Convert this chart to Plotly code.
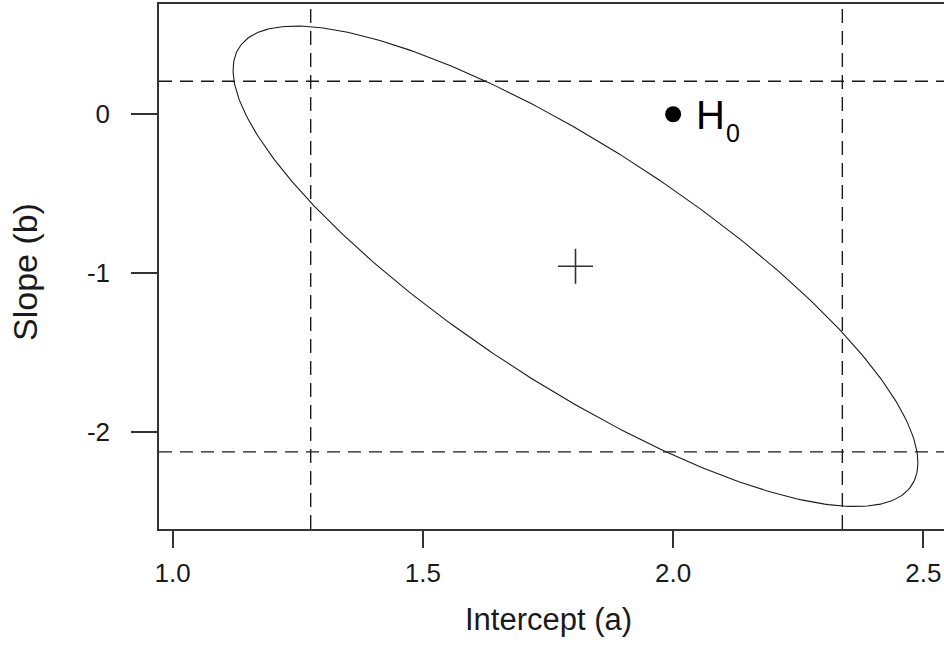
import numpy as np
import plotly.graph_objects as go

# ---- data ----
x_tickvals = [1.0, 1.5, 2.0, 2.5]
x_ticktext = ["1.0", "1.5", "2.0", "2.5"]
y_tickvals = [-2, -1, 0]
y_ticktext = ["-2", "-1", "0"]

est_a = 1.805          # intercept estimate (cross)
est_b = -0.958         # slope estimate (cross)
var_a = 0.684 ** 2     # joint-region half-extent in a, squared
var_b = 1.5135 ** 2    # joint-region half-extent in b, squared
cov_ab = -0.846        # covariance term of the joint region

ci_a = [1.276, 2.338]  # marginal interval for a (vertical dashed lines)
ci_b = [-2.127, 0.208] # marginal interval for b (horizontal dashed lines)

h0_a = [2.0]
h0_b = [0.0]

x_range = [0.973, 2.5411]
y_range = [-2.613, 0.6946]

# ---- ellipse from center + covariance ----
M = np.array([[var_a, cov_ab], [cov_ab, var_b]])
L = np.linalg.cholesky(M)
t = np.linspace(0, 2 * np.pi, 400)
pts = L @ np.vstack([np.cos(t), np.sin(t)])
ell_a = est_a + pts[0]
ell_b = est_b + pts[1]

FONT = "Liberation Sans, Arial, Helvetica, sans-serif"
INK = "#1a1a1a"
AX = "#333333"

fig = go.Figure()

fig.add_trace(go.Scatter(x=ell_a, y=ell_b, mode="lines",
                         line=dict(color=INK, width=1.1), hoverinfo="skip"))

for a in ci_a:
    fig.add_trace(go.Scatter(x=[a, a], y=y_range, mode="lines",
                             line=dict(color=INK, width=1.4, dash="14px,8px"),
                             hoverinfo="skip"))
for b in ci_b:
    fig.add_trace(go.Scatter(x=x_range, y=[b, b], mode="lines",
                             line=dict(color=INK, width=1.4, dash="13px,8px"),
                             hoverinfo="skip"))

fig.add_trace(go.Scatter(x=[est_a], y=[est_b], mode="markers",
                         marker=dict(symbol="cross-thin", size=25,
                                     line=dict(color=AX, width=1.6)),
                         hoverinfo="skip"))

fig.add_trace(go.Scatter(x=h0_a, y=h0_b, mode="markers",
                         marker=dict(symbol="circle", size=16, color="black"),
                         hoverinfo="skip"))

# H0 label
fig.add_annotation(x=h0_a[0], y=h0_b[0], xref="x", yref="y", text="H",
                   showarrow=False, xanchor="left", yanchor="middle",
                   xshift=21, yshift=-1,
                   font=dict(family=FONT, size=40, color="black"))
fig.add_annotation(x=h0_a[0], y=h0_b[0], xref="x", yref="y", text="0",
                   showarrow=False, xanchor="left", yanchor="middle",
                   xshift=51, yshift=-19,
                   font=dict(family=FONT, size=25, color="black"))

# axis titles
fig.add_annotation(x=0.4968, y=-0.1733, xref="paper", yref="paper",
                   text="Intercept (a)", showarrow=False,
                   xanchor="center", yanchor="middle",
                   font=dict(family=FONT, size=31, color=INK))
fig.add_annotation(x=-0.1707, y=0.4895, xref="paper", yref="paper",
                   text="Slope (b)", showarrow=False, textangle=-90,
                   xanchor="center", yanchor="middle",
                   font=dict(family=FONT, size=34, color=INK))

fig.update_layout(
    width=944, height=646,
    margin=dict(l=159, r=0, t=4, b=117),
    paper_bgcolor="white", plot_bgcolor="white",
    showlegend=False,
    xaxis=dict(range=x_range, showgrid=False, zeroline=False,
               showline=True, mirror=True, linecolor=AX, linewidth=1.6,
               ticks="outside", ticklen=17, tickwidth=1.6, tickcolor=AX,
               tickvals=x_tickvals, ticktext=x_ticktext,
               ticklabelstandoff=3,
               tickfont=dict(family=FONT, size=26, color=INK)),
    yaxis=dict(range=y_range, showgrid=False, zeroline=False,
               showline=True, mirror=False, linecolor=AX, linewidth=1.6,
               ticks="outside", ticklen=26, tickwidth=1.6, tickcolor=AX,
               tickvals=y_tickvals, ticktext=y_ticktext,
               ticklabelstandoff=16,
               tickfont=dict(family=FONT, size=26, color=INK)),
)

fig.write_html("out.html")
